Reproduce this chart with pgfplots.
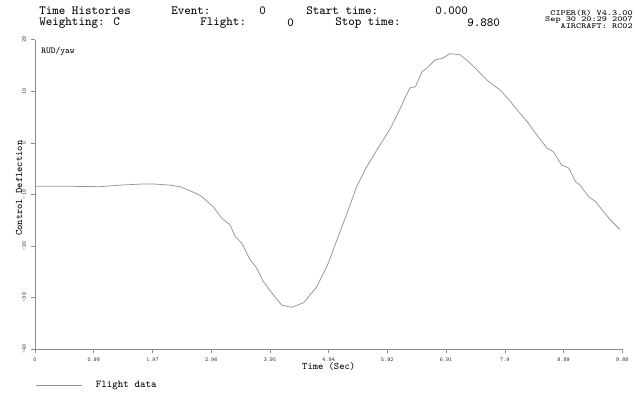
\documentclass[border=0pt]{standalone}
\usepackage{pgfplots}
\pgfplotsset{compat=1.18}
\renewcommand{\familydefault}{\ttdefault}
\definecolor{linegray}{RGB}{150,150,150}
\definecolor{axgray}{RGB}{140,140,140}
\begin{document}
\begin{tikzpicture}[x=0.01in,y=0.01in]
\path[use as bounding box] (0,0) rectangle (635,397);
\coordinate (O) at (35,48);
\begin{axis}[
  at={(O)}, anchor=south west,
  scale only axis, width=5.87in, height=3.09in,
  xmin=0, xmax=9.88, ymin=-40, ymax=20,
  axis lines*=left,
  axis line style={axgray, line width=0.7pt},
  tick style={axgray, line width=0.5pt},
  tick align=outside, major tick length=3pt,
  xtick={0,0.988,1.976,2.964,3.952,4.94,5.928,6.916,7.904,8.892,9.88},
  xticklabels={0,0.98,1.97,2.96,3.95,4.94,5.92,6.91,7.9,8.89,9.88},
  ytick={-40,-30,-20,-10,0,10,20},
  yticklabels={-40,-30,-20,-10,0,10,20},
  ticklabel style={font=\ttfamily\fontsize{4.2}{5}\selectfont, text=black!85},
  yticklabel style={rotate=90, anchor=south},
  /pgf/number format/assume math mode=true,
  xlabel={Time (Sec)},
  ylabel={Control Deflection},
  xlabel style={font=\ttfamily\fontsize{7.2}{8}\selectfont, at={(axis description cs:0.5,-0.056)}, anchor=center},
  ylabel style={font=\ttfamily\fontsize{7.2}{8}\selectfont, at={(axis description cs:-0.027,0.52)}, anchor=center},
  legend style={at={(axis description cs:0,-0.118)}, anchor=west, draw=none, fill=none,
    font=\ttfamily\fontsize{7.5}{8}\selectfont, inner sep=0pt},
  legend cell align=left,
  legend image code/.code={\draw[#1] (0pt,0pt) -- (0.46in,0pt);},
  clip=false,
]
\addplot[linegray, line width=0.55pt] coordinates {
(0.00,-8.4) (0.42,-8.4) (0.76,-8.45) (1.09,-8.5) (1.43,-8.2) (1.77,-8.0)
(2.02,-8.0) (2.27,-8.2) (2.44,-8.5) (2.61,-9.3) (2.78,-10.2) (3.00,-12.4)
(3.14,-14.6) (3.28,-15.9) (3.37,-18.2) (3.48,-19.5) (3.62,-22.7) (3.73,-24.3)
(3.84,-26.9) (4.01,-29.5) (4.15,-31.5) (4.32,-31.9) (4.52,-31.0) (4.74,-27.9)
(4.91,-24.0) (5.08,-18.8) (5.25,-13.6) (5.41,-8.5) (5.58,-4.6) (5.75,-1.4)
(5.84,0.25) (5.98,2.85) (6.14,6.6) (6.26,9.6) (6.31,10.7) (6.40,10.9)
(6.51,13.8) (6.59,14.5) (6.73,16.1) (6.85,16.4) (6.98,17.3) (7.07,17.2)
(7.15,17.1) (7.32,15.5) (7.45,14.0) (7.60,12.2) (7.83,10.2) (8.00,8.0)
(8.11,6.4) (8.28,4.1) (8.44,1.55) (8.61,-1.0) (8.72,-1.7) (8.86,-4.3)
(8.98,-4.9) (9.09,-7.5) (9.17,-8.2) (9.31,-10.4) (9.43,-11.4) (9.56,-13.3)
(9.68,-14.95) (9.84,-16.8)
};
\addlegendentry{\hspace{8pt}Flight data}
\end{axis}
\begin{scope}[every node/.style={inner sep=0pt, font=\ttfamily\fontsize{9}{10}\selectfont}]
\node[anchor=west] at (39,386) {Time Histories};
\node[anchor=west] at (39,374) {Weighting: C};
\node[anchor=west] at (171,386) {Event:};
\node[anchor=west] at (259,386) {0};
\node[anchor=west] at (306,386) {Start time:};
\node[anchor=west] at (435,386) {0.000};
\node[anchor=west] at (200,374) {Flight:};
\node[anchor=west] at (287,374) {0};
\node[anchor=west] at (335,374) {Stop time:};
\node[anchor=west] at (467,374) {9.880};
\end{scope}
\begin{scope}[every node/.style={inner sep=0pt, font=\ttfamily\fontsize{5.6}{6}\selectfont, anchor=east}]
\node at (633,384) {\scalebox{1.25}[1]{CIPER(R) V4.3.00}};
\node at (633,377.5) {\scalebox{1.25}[1]{Sep 30 20:29 2007}};
\node at (633,371) {\scalebox{1.25}[1]{AIRCRAFT: RC02}};
\end{scope}
\node[anchor=west, inner sep=0pt, font=\ttfamily\fontsize{6.5}{7}\selectfont] at (41,346) {RUD/yaw};
\end{tikzpicture}
\end{document}
